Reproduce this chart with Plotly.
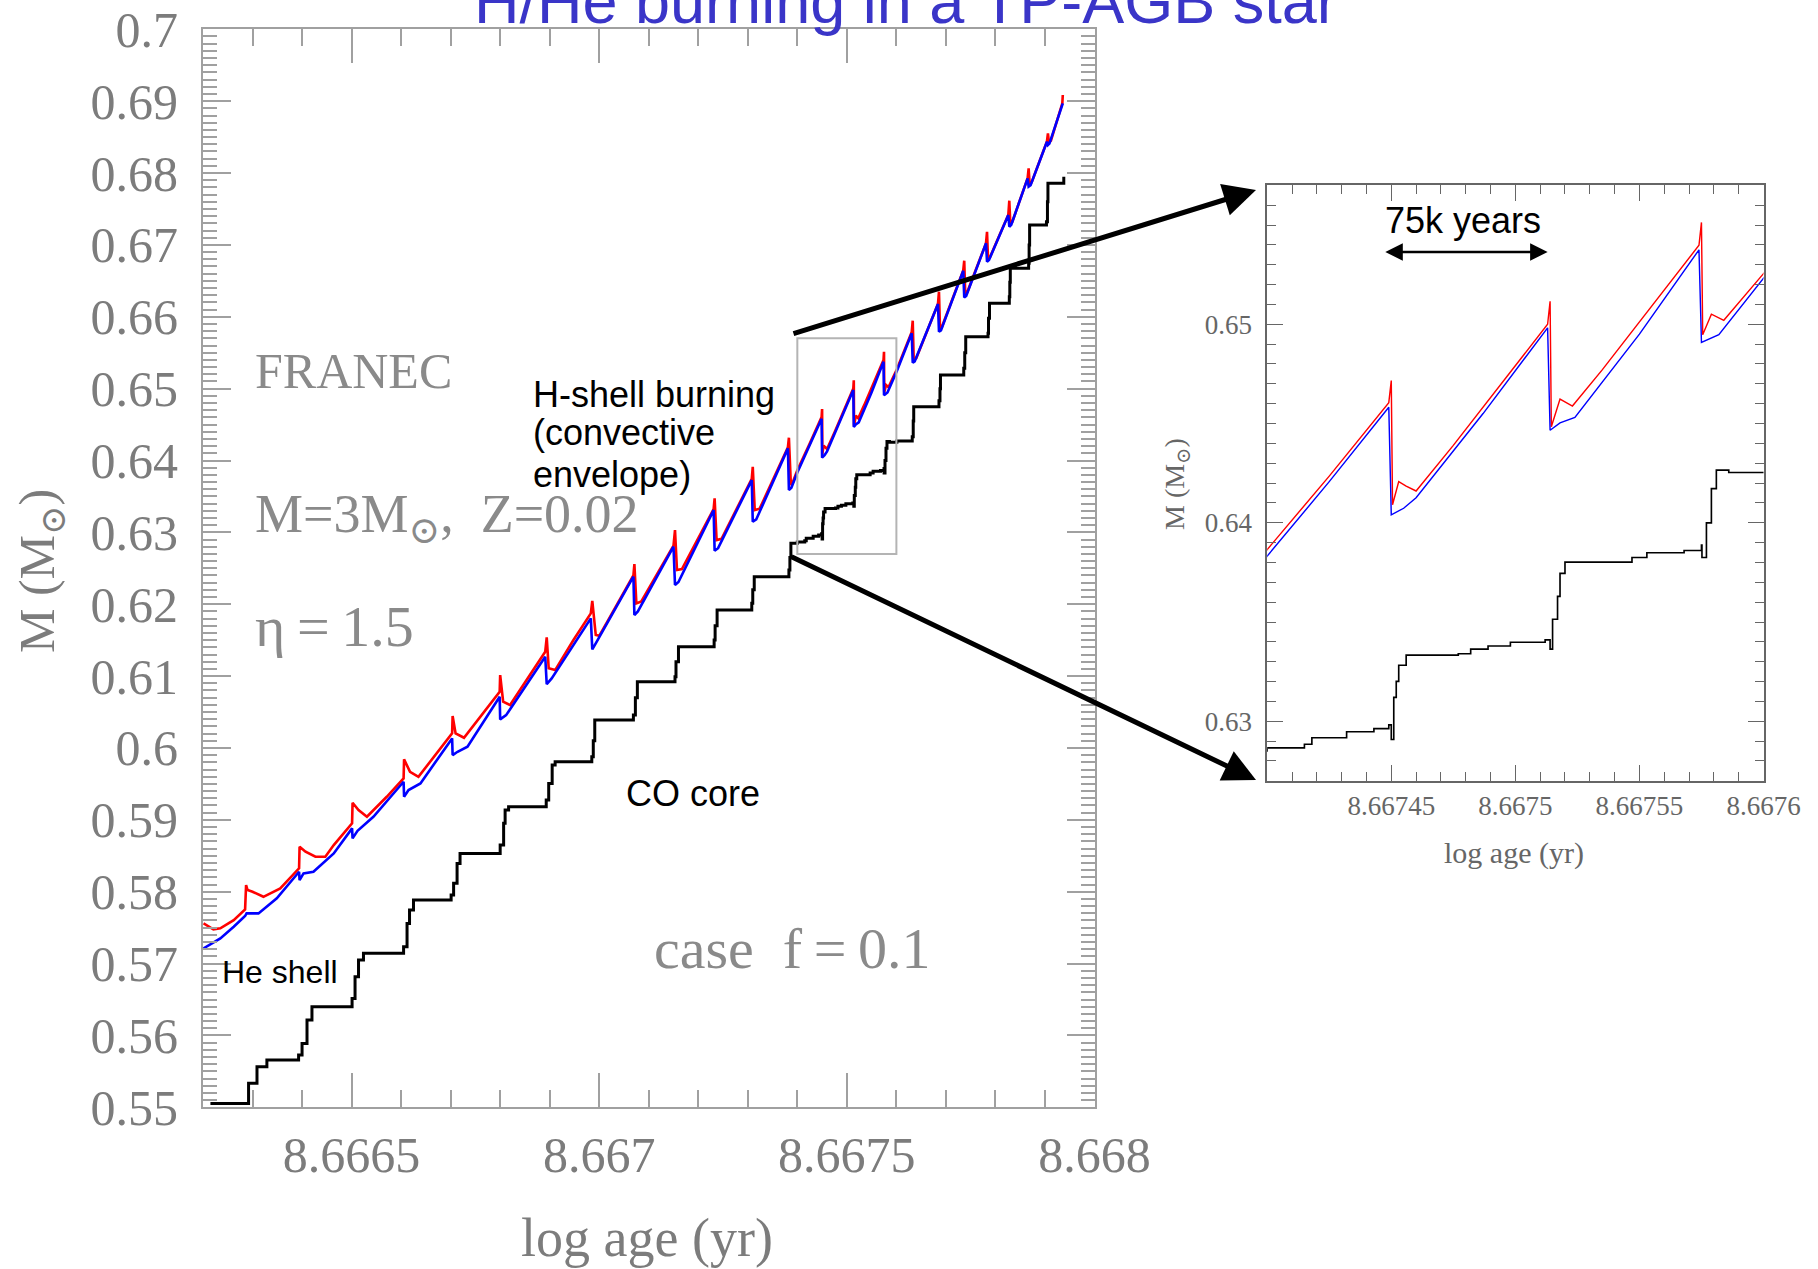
import plotly.graph_objects as go

# ---------------- data ----------------
RED_X = [8.666201, 8.666221, 8.666235, 8.666262, 8.666285, 8.666287, 8.666290, 8.666300, 8.666322, 8.666356,
         8.666394, 8.666395, 8.666407, 8.666427, 8.666447, 8.666464, 8.666501, 8.666502, 8.666514, 8.666531,
         8.666571, 8.666605, 8.666606, 8.666618, 8.666635, 8.666666, 8.666703, 8.666704, 8.666710, 8.666727,
         8.666766, 8.666799, 8.666800, 8.666806, 8.666820, 8.666854, 8.666891, 8.666894, 8.666898, 8.666911,
         8.666948, 8.666983, 8.666986, 8.666993, 8.667000, 8.667015, 8.667069, 8.667071, 8.667075, 8.667085,
         8.667150, 8.667153, 8.667157, 8.667167, 8.667231, 8.667233, 8.667237, 8.667247, 8.667308, 8.667310,
         8.667314, 8.667324, 8.667381, 8.667383, 8.667387, 8.667391, 8.667400, 8.667425, 8.667449, 8.667450,
         8.6674505, 8.667453, 8.667456, 8.667460, 8.667475, 8.667513, 8.667514, 8.6675145, 8.667518, 8.667523,
         8.667535, 8.667574, 8.667575, 8.6675755, 8.667579, 8.667584, 8.667601, 8.667631, 8.667633, 8.667635,
         8.667640, 8.667684, 8.667686, 8.667688, 8.667692, 8.667735, 8.667737, 8.667739, 8.667743, 8.667781,
         8.667783, 8.667785, 8.667789, 8.667826, 8.667828, 8.667830, 8.667834, 8.667865, 8.667867, 8.667869,
         8.667873, 8.667904, 8.667906, 8.667908, 8.667912, 8.667935, 8.667936]
RED_Y = [0.57559, 0.57476, 0.57490, 0.57605, 0.57754, 0.58092, 0.58023, 0.58000, 0.57929, 0.58046,
         0.58325, 0.58625, 0.58556, 0.58486, 0.58486, 0.58649, 0.58951, 0.59237, 0.59136, 0.59043,
         0.59321, 0.59577, 0.59841, 0.59669, 0.59599, 0.59878, 0.60203, 0.60444, 0.60203, 0.60142,
         0.60481, 0.60782, 0.61014, 0.60643, 0.60597, 0.60945, 0.61339, 0.61539, 0.61108, 0.61084,
         0.61502, 0.61873, 0.62048, 0.61571, 0.61560, 0.61740, 0.62400, 0.62559, 0.62012, 0.62040,
         0.62815, 0.63032, 0.62476, 0.62490, 0.63325, 0.63473, 0.62893, 0.62910, 0.63745, 0.63913,
         0.63310, 0.63330, 0.64185, 0.64317, 0.63658, 0.63700, 0.63865, 0.64235, 0.64605, 0.64716,
         0.64091, 0.64207, 0.64185, 0.64160, 0.64390, 0.65000, 0.65116, 0.64484, 0.64623, 0.64588,
         0.64770, 0.65398, 0.65513, 0.64947, 0.65051, 0.65020, 0.65270, 0.65790, 0.65945, 0.65400,
         0.65420, 0.66180, 0.66349, 0.65840, 0.65860, 0.66645, 0.66780, 0.66320, 0.66340, 0.67025,
         0.67183, 0.66810, 0.66830, 0.67420, 0.67615, 0.67300, 0.67320, 0.67930, 0.68066, 0.67850,
         0.67870, 0.68440, 0.68553, 0.68430, 0.68450, 0.68970, 0.69086]

BLUE_X = [8.666201, 8.666235, 8.666262, 8.666285, 8.666288, 8.666312, 8.666349, 8.666394, 8.666395, 8.666403,
          8.666423, 8.666464, 8.666501, 8.666502, 8.666512, 8.666544, 8.666605, 8.666606, 8.666615, 8.666639,
          8.666703, 8.666704, 8.666714, 8.666734, 8.666799, 8.666800, 8.666812, 8.666891, 8.666894, 8.666904,
          8.666983, 8.666986, 8.666993, 8.667069, 8.667071, 8.667078, 8.667150, 8.667153, 8.667160, 8.667231,
          8.667233, 8.667240, 8.667308, 8.667310, 8.667317, 8.667381, 8.667383, 8.667388, 8.667400, 8.667425,
          8.667449, 8.667450, 8.667455, 8.667460, 8.667487, 8.667513, 8.667514, 8.667518, 8.667524, 8.667550,
          8.667574, 8.667575, 8.667582, 8.667601, 8.667631, 8.667633, 8.667637, 8.667684, 8.667686, 8.667690,
          8.667735, 8.667737, 8.667741, 8.667781, 8.667783, 8.667787, 8.667826, 8.667828, 8.667832, 8.667865,
          8.667867, 8.667871, 8.667904, 8.667906, 8.667909, 8.667936]
BLUE_Y = [0.57211, 0.57350, 0.57512, 0.57661, 0.57698, 0.57698, 0.57907, 0.58277, 0.58161, 0.58255,
          0.58277, 0.58533, 0.58881, 0.58742, 0.58847, 0.59043, 0.59530, 0.59321, 0.59414, 0.59507,
          0.60133, 0.59901, 0.59947, 0.60017, 0.60713, 0.60398, 0.60457, 0.61269, 0.60889, 0.60968,
          0.61803, 0.61372, 0.61456, 0.62383, 0.61849, 0.61900, 0.62800, 0.62267, 0.62310, 0.63310,
          0.62744, 0.62780, 0.63728, 0.63148, 0.63180, 0.64169, 0.63589, 0.63620, 0.63832, 0.64207,
          0.64582, 0.64040, 0.64073, 0.64126, 0.64550, 0.64982, 0.64466, 0.64503, 0.64531, 0.64950,
          0.65375, 0.64908, 0.64947, 0.65247, 0.65770, 0.65360, 0.65380, 0.66177, 0.65792, 0.65810,
          0.66641, 0.66270, 0.66290, 0.67022, 0.66766, 0.66790, 0.67416, 0.67253, 0.67280, 0.67926,
          0.67810, 0.67830, 0.68436, 0.68390, 0.68410, 0.68970]

CORE_X = [8.666215, 8.666285, 8.666292, 8.666309, 8.666329, 8.666393, 8.666400, 8.666410, 8.666420, 8.666501,
          8.666507, 8.666514, 8.666524, 8.666605, 8.666612, 8.666617, 8.666625, 8.666701, 8.666706, 8.666713,
          8.666719, 8.666800, 8.666807, 8.666810, 8.666817, 8.666893, 8.666898, 8.666905, 8.666911, 8.666985,
          8.666988, 8.666991, 8.667069, 8.667073, 8.667077, 8.667153, 8.667155, 8.667160, 8.667232, 8.667234,
          8.667238, 8.667308, 8.667310, 8.667313, 8.667383, 8.667385, 8.667387, 8.667400, 8.667415, 8.667418,
          8.667432, 8.667443, 8.667449, 8.667450, 8.667451, 8.667452, 8.667453, 8.667456, 8.667477, 8.667482,
          8.667489, 8.667498, 8.667512, 8.667514, 8.667515, 8.667517, 8.667518, 8.667520, 8.667539, 8.667547,
          8.667553, 8.667568, 8.667575, 8.6675752, 8.667577, 8.667579, 8.667581, 8.667586, 8.667601, 8.667632,
          8.667634, 8.667635, 8.667686, 8.667688, 8.667689, 8.667736, 8.667738, 8.667740, 8.667785, 8.667786,
          8.667788, 8.667828, 8.667829, 8.667830, 8.667867, 8.667868, 8.667869, 8.667903, 8.667905, 8.667906,
          8.667938]
CORE_Y = [0.55054, 0.55054, 0.55333, 0.55564, 0.55657, 0.55727, 0.55889, 0.56214, 0.56399, 0.56515,
          0.56816, 0.57049, 0.57142, 0.57234, 0.57559, 0.57744, 0.57883, 0.57953, 0.58116, 0.58394,
          0.58533, 0.58649, 0.58951, 0.59136, 0.59182, 0.59275, 0.59507, 0.59762, 0.59808, 0.59878,
          0.60100, 0.60388, 0.60458, 0.60700, 0.60921, 0.60991, 0.61200, 0.61409, 0.61502, 0.61700,
          0.61919, 0.62012, 0.62200, 0.62383, 0.62476, 0.62650, 0.62850, 0.62866, 0.62884, 0.62917,
          0.62947, 0.62963, 0.62982, 0.62908, 0.63120, 0.63201, 0.63282, 0.63333, 0.63340, 0.63363,
          0.63379, 0.63398, 0.63410, 0.63363, 0.63514, 0.63629, 0.63745, 0.63802, 0.63802, 0.63825,
          0.63849, 0.63860, 0.63888, 0.63825, 0.63999, 0.64172, 0.64265, 0.64253, 0.64272, 0.64331,
          0.64550, 0.64748, 0.64832, 0.65000, 0.65189, 0.65283, 0.65500, 0.65722, 0.65769, 0.65980,
          0.66187, 0.66279, 0.66480, 0.66674, 0.66744, 0.67000, 0.67277, 0.67323, 0.67600, 0.67857,
          0.67949]

MAIN_XTICKS = [8.6665, 8.667, 8.6675, 8.668]
MAIN_XTEXT = ["8.6665", "8.667", "8.6675", "8.668"]
MAIN_YTICKS = [0.55, 0.56, 0.57, 0.58, 0.59, 0.60, 0.61, 0.62, 0.63, 0.64, 0.65, 0.66, 0.67, 0.68, 0.69, 0.70]
MAIN_YTEXT = ["0.55", "0.56", "0.57", "0.58", "0.59", "0.6", "0.61", "0.62", "0.63", "0.64",
              "0.65", "0.66", "0.67", "0.68", "0.69", "0.7"]
INSET_XTICKS = [8.66745, 8.6675, 8.66755, 8.6676]
INSET_XTEXT = ["8.66745", "8.6675", "8.66755", "8.6676"]
INSET_YTICKS = [0.63, 0.64, 0.65]
INSET_YTEXT = ["0.63", "0.64", "0.65"]

# ---------------- layout helpers ----------------
W, H = 1818, 1269


def px(x):
    return x / W


def py(y):
    return 1 - y / H


SERIF = "Liberation Serif, DejaVu Serif, serif"
SANS = "Arial, Liberation Sans, sans-serif"
GRAY_TXT = "#7c7c7c"
AX_GRAY = "#a0a0a0"

fig = go.Figure()

for xa, ya, wscale in (("x", "y", 1.0), ("x2", "y2", 0.55)):
    fig.add_trace(go.Scatter(x=RED_X, y=RED_Y, mode="lines", xaxis=xa, yaxis=ya,
                             line=dict(color="#ff0000", width=2.6 * wscale), showlegend=False,
                             hoverinfo="skip"))
    fig.add_trace(go.Scatter(x=BLUE_X, y=BLUE_Y, mode="lines", xaxis=xa, yaxis=ya,
                             line=dict(color="#0000ff", width=2.6 * wscale), showlegend=False,
                             hoverinfo="skip"))
    fig.add_trace(go.Scatter(x=CORE_X, y=CORE_Y, mode="lines", xaxis=xa, yaxis=ya,
                             line=dict(color="#000000", width=3.0 * wscale, shape="hv"),
                             showlegend=False, hoverinfo="skip"))

main_axis_common = dict(showline=True, linecolor=AX_GRAY, linewidth=2, mirror="ticks",
                        ticks="inside", tickwidth=1.5, tickcolor=AX_GRAY, showgrid=False,
                        zeroline=False, tickmode="array", automargin=False,
                        tickfont=dict(family=SERIF, size=50, color=GRAY_TXT))
inset_axis_common = dict(showline=True, linecolor="#666666", linewidth=1.5, mirror="ticks",
                         ticks="inside", ticklen=16, tickwidth=1.2, tickcolor="#666666",
                         showgrid=False, zeroline=False, tickmode="array", automargin=False,
                         tickfont=dict(family=SERIF, size=27, color="#666666"))

fig.update_layout(
    width=W, height=H, margin=dict(l=0, r=0, t=0, b=0, pad=0, autoexpand=False),
    paper_bgcolor="white", plot_bgcolor="white", showlegend=False,
    xaxis=dict(domain=[px(203), px(1094.5)], range=[8.6662, 8.668], anchor="y",
               tickvals=MAIN_XTICKS, ticktext=MAIN_XTEXT, ticklen=34, ticklabelstandoff=3,
               minor=dict(tickmode="linear", tick0=8.6662, dtick=0.0001, ticks="inside",
                          ticklen=17, tickwidth=1.5, tickcolor=AX_GRAY),
               **main_axis_common),
    yaxis=dict(domain=[py(1107.3), py(29.3)], range=[0.55, 0.70], anchor="x",
               tickvals=MAIN_YTICKS, ticktext=MAIN_YTEXT, ticklen=28, ticklabelstandoff=13,
               minor=dict(tickmode="linear", tick0=0.55, dtick=0.001, ticks="inside",
                          ticklen=14, tickwidth=1.5, tickcolor=AX_GRAY),
               **main_axis_common),
    xaxis2=dict(domain=[px(1267.2), px(1763.5)], range=[8.6674, 8.6676], anchor="y2",
                tickvals=INSET_XTICKS, ticktext=INSET_XTEXT, ticklabelstandoff=0,
                minor=dict(tickmode="linear", tick0=8.6674, dtick=0.00001, ticks="inside",
                           ticklen=9, tickwidth=1.2, tickcolor="#666666"),
                **inset_axis_common),
    yaxis2=dict(domain=[py(780.8), py(185.3)], range=[0.627, 0.657], anchor="x2",
                tickvals=INSET_YTICKS, ticktext=INSET_YTEXT, ticklabelstandoff=8,
                minor=dict(tickmode="linear", tick0=0.627, dtick=0.001, ticks="inside",
                           ticklen=9, tickwidth=1.2, tickcolor="#666666"),
                **inset_axis_common),
)

# zoom box on the main plot
fig.add_shape(type="rect", xref="x", yref="y", x0=8.6674, x1=8.6676, y0=0.627, y1=0.657,
              line=dict(color="#b4b4b4", width=2))

ann = []


def txt(text, x, y, size, color, family, xanchor="left", yanchor="middle", angle=0):
    ann.append(dict(text=text, x=px(x), y=py(y), xref="paper", yref="paper",
                    xanchor=xanchor, yanchor=yanchor, showarrow=False, textangle=angle,
                    font=dict(family=family, size=size, color=color)))


# title (cut by the top edge, as in the reference)
txt("H/He burning in a TP-AGB star", 906, 1, 63, "#3a35c8", SANS, xanchor="center")

# gray labels inside the main plot
txt("FRANEC", 253, 371, 50, "#8a8a8a", SERIF)
txt("M=3M<sub>\u2299</sub>,\u00a0\u00a0Z=0.02", 253, 518, 54, "#8a8a8a", SERIF)
txt("\u03b7\u2009=\u20091.5", 253, 626, 58, "#8a8a8a", SERIF)
txt("case\u00a0\u00a0f\u2009=\u20090.1", 652, 948, 58, "#8a8a8a", SERIF)

# black explanatory labels
txt("H-shell burning", 531, 394, 36, "black", SANS)
txt("(convective", 531, 433, 36, "black", SANS)
txt("envelope)", 531, 474, 36, "black", SANS)
txt("CO core", 624, 793, 36, "black", SANS)
txt("He shell", 220, 972, 32, "black", SANS)
txt("75k years", 1463, 220, 36, "black", SANS, xanchor="center")

# axis titles
txt("log age (yr)", 647, 1238, 54, GRAY_TXT, SERIF, xanchor="center")
txt("M (M<sub>\u2299</sub>)", 41, 571, 50, GRAY_TXT, SERIF, xanchor="center", angle=-90)
txt("log age (yr)", 1514, 853, 30, "#666666", SERIF, xanchor="center")
txt("M (M<sub>\u2299</sub>)", 1176, 484, 28, "#666666", SERIF, xanchor="center", angle=-90)

# zoom arrows
for (tx, ty), (hx, hy) in (((792, 334), (1256, 190)), ((790, 556), (1256, 780))):
    ann.append(dict(text="", x=px(hx), y=py(hy), xref="paper", yref="paper",
                    ax=tx - hx, ay=ty - hy, axref="pixel", ayref="pixel",
                    showarrow=True, arrowhead=2, arrowsize=1.3, arrowwidth=5,
                    arrowcolor="black", standoff=0))

# 75k years double arrow in the inset
ann.append(dict(text="", x=8.667513, y=0.65364, xref="x2", yref="y2",
                ax=8.667447, ay=0.65364, axref="x2", ayref="y2",
                showarrow=True, arrowhead=2, startarrowhead=2, arrowside="end+start",
                arrowsize=1.4, startarrowsize=1.4, arrowwidth=2.5, arrowcolor="black"))

fig.update_layout(annotations=ann)

fig.write_html("out.html", config={"displayModeBar": False},
               post_script="document.body.style.margin='0px';")
